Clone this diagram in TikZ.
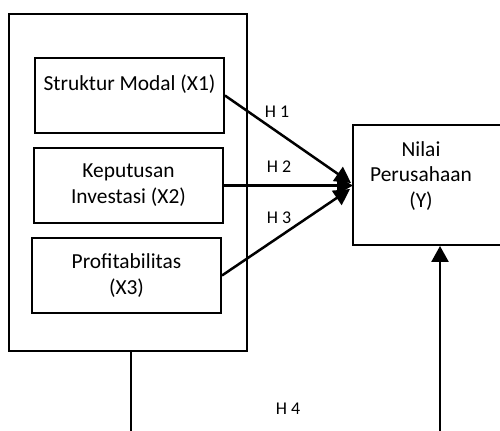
\documentclass[tikz,border=0pt]{standalone}
\usepackage{fontspec}
\setmainfont{Carlito}
\usetikzlibrary{arrows.meta}
\begin{document}
\begin{tikzpicture}[x=1bp,y=-1bp,
  varbox/.style={draw, line width=1.9bp, minimum width=189bp, minimum height=75bp, inner sep=0pt, align=center, font=\fontsize{21.5}{26}\selectfont},
  outerbox/.style={draw, line width=1.9bp, minimum width=238bp, minimum height=337bp, inner sep=0pt},
  link/.style={line width=2.5bp, -{Triangle[length=16bp,width=17bp]}},
  plainline/.style={line width=1.9bp},
  hlab/.style={font=\fontsize{18}{20}\selectfont, inner sep=0pt}]
\clip (0,0) rectangle (500,430);
\node[outerbox] (outer) at (128,182.5) {};
\node[varbox] (x1) at (129.5,95.5) {Struktur Modal (X1)\\ ~};
\node[varbox] (x2) at (128.5,185.5) {Keputusan\\Investasi (X2)};
\node[varbox] (x3) at (126.5,275.5) {Profitabilitas\\(X3)};
\node[varbox, minimum width=160bp, minimum height=120bp] (y) at (433,185) {};
\node[font=\fontsize{21.5}{26}\selectfont, align=center, inner sep=0pt] (ytext) at (421,176) {Nilai\\Perusahaan\\(Y)};
\coordinate (t1) at (351,183);
\coordinate (t2) at (353,185.5);
\coordinate (t3) at (350,189);
\draw[link] (x1.east) -- (t1);
\draw[link] (x2.east) -- (t2);
\draw[link] (x3.east) -- (t3);
\coordinate (b1) at (131,435);
\coordinate (b2) at (440,435);
\draw[plainline] (outer.south -| b1) -- (b1);
\draw[link] (b2) -- (b2 |- y.south);
\node[hlab] (h1) at (277,112) {H 1};
\node[hlab] (h2) at (279,167) {H 2};
\node[hlab] (h3) at (279,218) {H 3};
\node[hlab] (h4) at (288,409) {H 4};
\end{tikzpicture}
\end{document}
